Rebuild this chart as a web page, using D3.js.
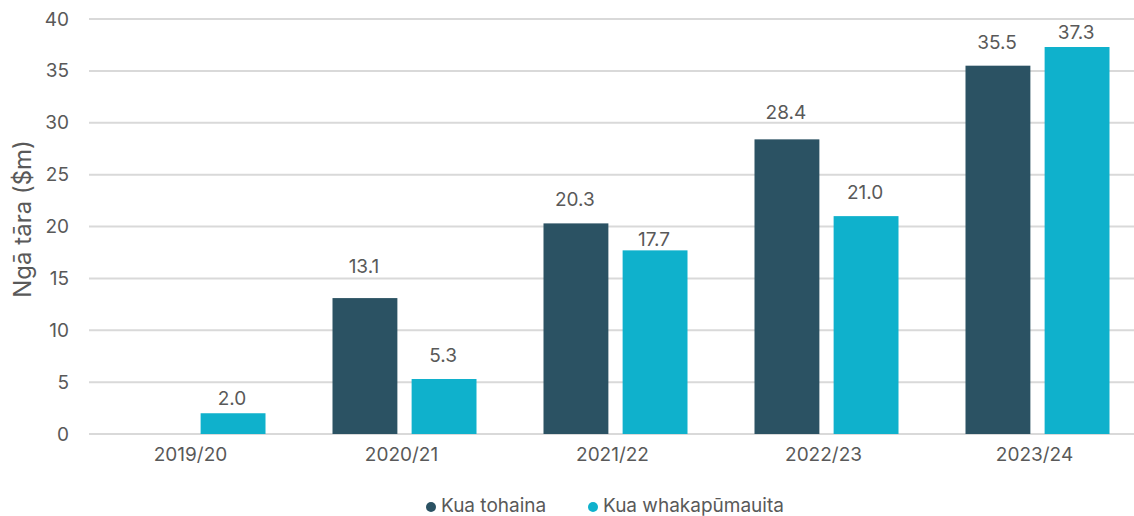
<!DOCTYPE html>
<html>
<head>
<meta charset="utf-8">
<script src="https://cdn.jsdelivr.net/npm/d3@7"></script>
<style>
  body { margin: 0; background: #fff; }
  text { font-family: "Inter", sans-serif; fill: #595959; }
</style>
</head>
<body>
<div id="chart"></div>
<script>
var years = ["2019/20", "2020/21", "2021/22", "2022/23", "2023/24"];
var tohaina = [null, 13.1, 20.3, 28.4, 35.5];
var whakapumau = [2.0, 5.3, 17.7, 21.0, 37.3];
var seriesNames = ["Kua tohaina", "Kua whakapūmauita"];
var yTicks = [0, 5, 10, 15, 20, 25, 30, 35, 40];

// gap between bar top and its label, as placed in the original
var labelGap = [[0, 25, 17.5, 20, 17], [8, 17, 4.5, 17, 8]];

var svgWidth = 1134, svgHeight = 516;
var colors = ["#2b5263", "#0fb1cc"];
var font = "Inter, sans-serif";
var fs = "19px";

var svg = d3.select("#chart")
  .append("svg")
  .attr("width", svgWidth)
  .attr("height", svgHeight);

var xScale = d3.scaleBand()
  .domain(years)
  .range([88, 1143])
  .paddingInner(0)
  .paddingOuter(0);

var inner = d3.scaleBand()
  .domain([0, 1])
  .range([xScale.bandwidth() / 2 - 72, xScale.bandwidth() / 2 + 72])
  .paddingInner(0.18);

var yScale = d3.scaleLinear()
  .domain([0, 40])
  .range([434, 19]);

// gridlines
svg.append("g")
  .selectAll("line")
  .data(yTicks)
  .enter()
  .append("line")
  .attr("x1", 89)
  .attr("x2", svgWidth)
  .attr("y1", d => yScale(d))
  .attr("y2", d => yScale(d))
  .attr("stroke", "#d9d9d9")
  .attr("stroke-width", 2);

var leftAxis = d3.axisLeft(yScale).tickValues(yTicks).tickSize(0).tickPadding(0);
var yAxis = svg.append("g")
  .attr("transform", "translate(69,0)")
  .call(leftAxis);
yAxis.select(".domain").remove();
yAxis.selectAll("text")
  .attr("font-size", fs)
  .style("font-family", font)
  .attr("fill", "#595959");

var bottomAxis = d3.axisBottom(xScale).tickSize(0).tickPadding(0);
var xAxis = svg.append("g")
  .attr("transform", "translate(-3,447)")
  .call(bottomAxis);
xAxis.select(".domain").remove();
xAxis.selectAll("text")
  .attr("font-size", fs)
  .style("font-family", font)
  .attr("fill", "#595959");

var rows = [];
years.forEach(function (y, i) {
  [tohaina[i], whakapumau[i]].forEach(function (v, s) {
    if (v !== null) rows.push({ year: y, i: i, s: s, v: v });
  });
});

var groups = svg.append("g");
groups.selectAll("rect")
  .data(rows)
  .enter()
  .append("rect")
  .attr("x", d => xScale(d.year) + inner(d.s))
  .attr("width", inner.bandwidth())
  .attr("y", d => yScale(d.v))
  .attr("height", d => yScale(0) - yScale(d.v))
  .attr("fill", d => colors[d.s]);

groups.selectAll(".val")
  .data(rows)
  .enter()
  .append("text")
  .attr("class", "val")
  .attr("x", d => xScale(d.year) + inner(d.s) + inner.bandwidth() / 2 - 1)
  .attr("y", d => yScale(d.v) - labelGap[d.s][d.i])
  .attr("text-anchor", "middle")
  .attr("font-size", fs)
  .attr("fill", "#404040")
  .text(d => d.v.toFixed(1));

svg.append("text")
  .attr("transform", "rotate(-90)")
  .attr("x", -219)
  .attr("y", 31)
  .attr("text-anchor", "middle")
  .attr("font-size", "24px")
  .text("Ngā tāra ($m)");

var legendX = [431, 593];
var legend = svg.append("g");
seriesNames.forEach(function (name, i) {
  legend.append("circle")
    .attr("cx", legendX[i])
    .attr("cy", 507)
    .attr("r", 5)
    .attr("fill", colors[i]);
  legend.append("text")
    .attr("x", legendX[i] + 10)
    .attr("y", 512)
    .attr("font-size", fs)
    .text(name);
});
</script>
</body>
</html>
